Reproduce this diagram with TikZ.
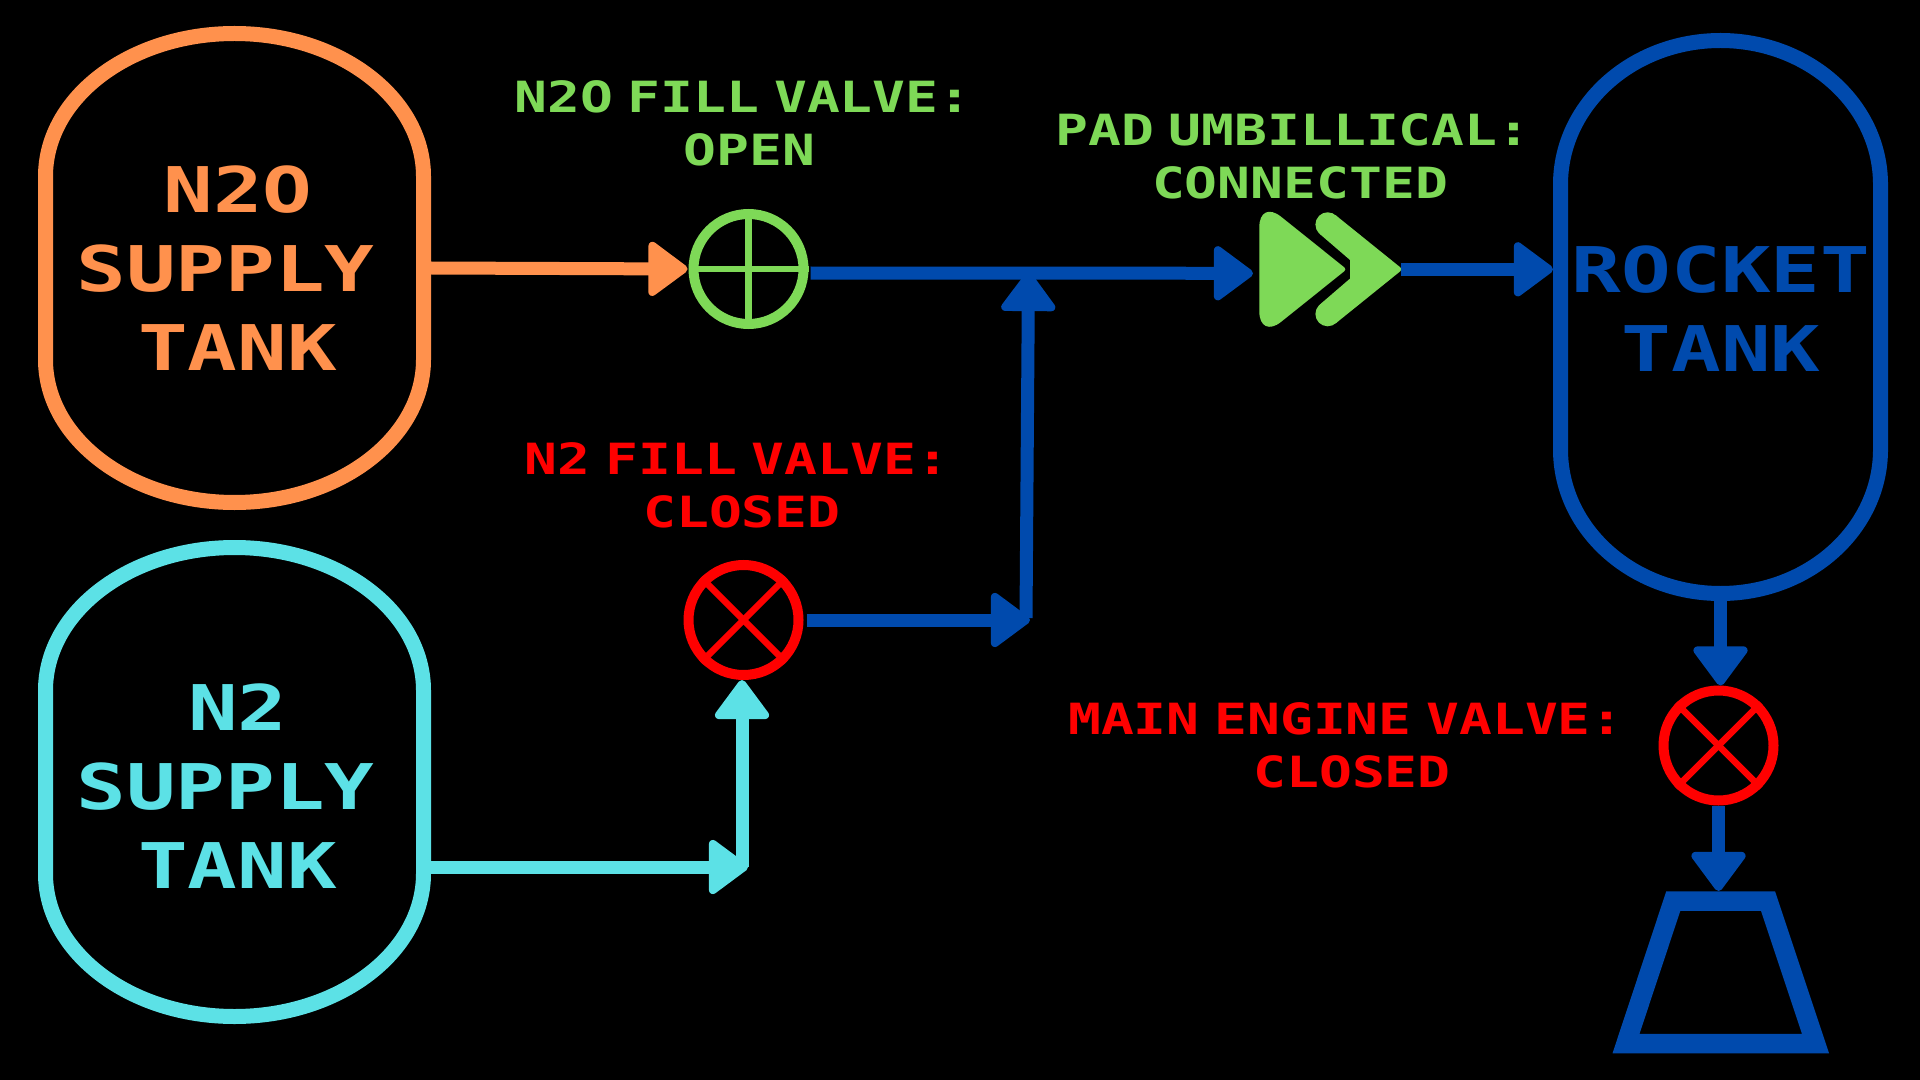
\documentclass[tikz,border=0pt]{standalone}
\usepackage{fontspec}
\usepackage{tikz}
\usetikzlibrary{calc}
\usetikzlibrary{arrows.meta}
\newfontfamily\tankfont[FakeStretch=1.31,WordSpace=0.6]{DejaVu Sans Mono Bold}
\newfontfamily\tagfont[FakeStretch=1.27,WordSpace=0.45]{DejaVu Sans Mono Bold}
\definecolor{myorange}{HTML}{FF914D}
\definecolor{mycyan}{HTML}{5CE1E6}
\definecolor{myblue}{HTML}{004AAD}
\definecolor{mygreen}{HTML}{7ED957}
\definecolor{myred}{HTML}{FF0000}
\tikzset{%
  myedge/.style={-{Triangle[round,length=21pt,width=30pt,line width=4pt]}, line width=6.5pt},
  mytank/.style={rectangle, inner sep=0pt, outer sep=0pt, align=center,
    font=\tankfont\fontsize{31.5}{39.5}\selectfont},
  myvalve/.style={circle, draw, line width=5pt, inner sep=0pt, minimum size=55pt},
  mytag/.style={inner sep=0pt, align=center, font=\tagfont\fontsize{21.5}{26.5}\selectfont},
  mybar/.style={line width=3.25pt}
}
\newcommand{\tankoutline}[4]{%
  \draw[#4, line width=7.5pt, line join=round]
    ([shift={(3.75pt,-3.75pt-#3)}]#1.north west)
    arc[start angle=180, end angle=90, x radius=#2, y radius=#3]
    arc[start angle=90, end angle=0, x radius=#2, y radius=#3]
    -- ([shift={(-3.75pt,3.75pt+#3)}]#1.south east)
    arc[start angle=0, end angle=-90, x radius=#2, y radius=#3]
    arc[start angle=-90, end angle=-180, x radius=#2, y radius=#3]
    -- cycle;
}
\begin{document}
\begin{tikzpicture}[x=0.5pt, y=-0.5pt]
  \fill[black, use as bounding box] (0,0) rectangle (1920,1080);

  % tanks
  \node[mytank, text=myorange, minimum width=196.5pt, minimum height=242pt] (n2otank) at (234.5,268)
    {\hspace*{3.5pt}N2O\\SUPPLY\kern 9pt\\\hspace*{3pt}TANK};
  \node[inner sep=0pt, outer sep=0pt, minimum width=196.5pt, minimum height=242pt] (n2tank) at (234.5,782) {};
  \node[mytank, text=mycyan] (n2label) at (234.5,786)
    {\hspace*{3.5pt}N2\\SUPPLY\kern 9pt\\\hspace*{3pt}TANK};
  \node[inner sep=0pt, outer sep=0pt, minimum width=167.5pt, minimum height=284pt] (rockettank) at (1720.5,317) {};
  \node[mytank, text=myblue] (rocketlabel) at (1721,308.5) {ROCKET\\TANK};
  \tankoutline{n2otank}{94.5pt}{71.5pt}{myorange}
  \tankoutline{n2tank}{94.5pt}{71.5pt}{mycyan}
  \tankoutline{rockettank}{80pt}{72pt}{myblue}

  % valves
  \node[myvalve, draw=mygreen] (n2ovalve) at (748.5,269) {};
  \node[myvalve, draw=myred] (n2valve) at (743.5,620) {};
  \node[myvalve, draw=myred] (mainvalve) at (1718.5,745.5) {};
  \draw[mybar, mygreen] (n2ovalve.north) -- (n2ovalve.south);
  \draw[mybar, mygreen] (n2ovalve.west) -- (n2ovalve.east);
  \foreach \v in {n2valve, mainvalve} {
    \draw[mybar, myred] (\v.north west) -- (\v.south east);
    \draw[mybar, myred] (\v.north east) -- (\v.south west);
  }

  % umbilical fitting
  \node[inner sep=0pt, outer sep=0pt, minimum width=71pt, minimum height=57.5pt] (padfitting) at (1330,269.3) {};
  \begin{scope}[shift={(padfitting.center)}, mygreen]
    \fill (-70.7,0) [rounded corners=14pt] -- (-70.7,-70) [rounded corners=1.5pt] -- (16.7,0)
      [rounded corners=14pt] -- (-70.7,70) [sharp corners] -- cycle;
    \fill (20,-9.3) -- (-10.1,-35.2) -- (5.5,-54.2) [rounded corners=1.5pt] -- (72.7,0)
      [sharp corners] -- (5.5,54.2) -- (-10.1,35.2) -- (20,9.3) -- cycle;
    \fill (-2.3,-44.7) circle[radius=6.15pt];
    \fill (-2.3,44.7) circle[radius=6.15pt];
  \end{scope}

  % engine
  \coordinate (enginetop) at (1720.8,891);
  \draw[myblue, line width=9.75pt, line join=miter]
    (1673.3,901) -- (1768,901) -- (1815.5,1043.5) -- (1626,1043.5) -- cycle;

  % lines
  \coordinate (n2elbow) at (742,867);
  \coordinate (mergeelbow) at (1026,618);
  \coordinate (mergetop) at (1028.5,272);
  \draw[myedge, myorange] (n2otank.east) -- ([xshift=-0.5pt]n2ovalve.west);
  \draw[myedge, mycyan] (n2elbow -| n2tank.east) -- ([xshift=3pt]n2elbow);
  \draw[myedge, mycyan] (n2elbow) -- (n2elbow |- n2valve.south);
  \draw[myedge, myblue, shorten <=1pt, shorten >=3pt] ([yshift=-2pt]n2ovalve.east) -- ([yshift=-2pt]padfitting.west);
  \draw[myedge, myblue, shorten <=1.5pt] (n2valve.east) -- ([xshift=2pt]mergeelbow |- n2valve.east);
  \draw[myedge, myblue] (mergeelbow) -- (mergetop);
  \draw[myedge, myblue] (padfitting.east) -- (padfitting.east -| rockettank.west);
  \draw[myedge, myblue] (rockettank.south) -- (rockettank.south |- mainvalve.north);
  \draw[myedge, myblue] (mainvalve.south) -- (mainvalve.south |- enginetop);

  % labels
  \node[mytag, text=mygreen] (n2otag) at (743,123) {N2O FILL VALVE:\\\hspace*{6.5pt}OPEN};
  \node[mytag, text=mygreen] (padtag) at (1293,156) {PAD UMBILLICAL:\\\hspace*{7pt}CONNECTED};
  \node[mytag, text=myred] (n2tag) at (737,485.5) {N2 FILL VALVE:\\\hspace*{5pt}CLOSED};
  \node[mytag, text=myred] (maintag) at (1346,745) {MAIN ENGINE VALVE:\\\hspace*{6pt}CLOSED};
\end{tikzpicture}
\end{document}
